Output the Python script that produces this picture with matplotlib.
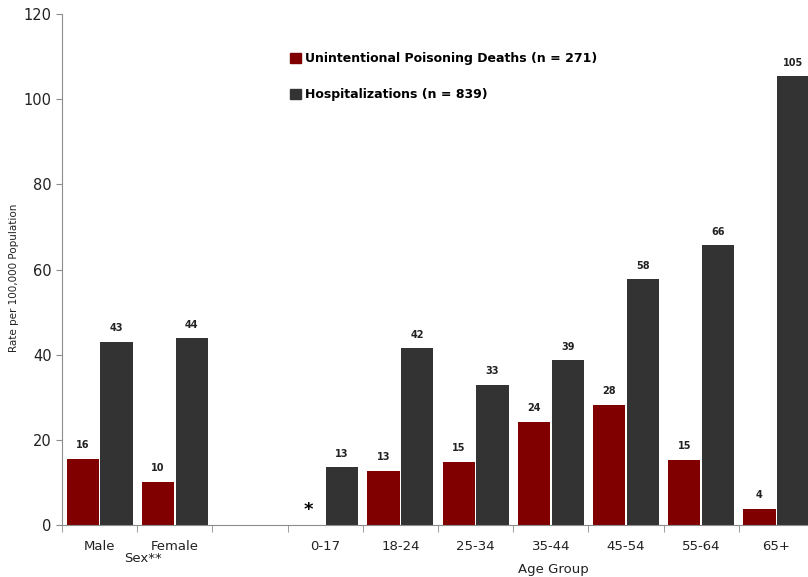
import numpy as np
import matplotlib
matplotlib.use("Agg")
import matplotlib.pyplot as plt
import matplotlib.transforms as mtransforms
from matplotlib.patches import Patch

# slots along x: two sex groups, one empty slot, then age groups
categories = ["Male", "Female", "", "0-17", "18-24", "25-34", "35-44", "45-54", "55-64", "65+"]
deaths = [15.6, 10.1, None, None, 12.7, 14.8, 24.2, 28.2, 15.3, 3.8]
hosp = [43.0, 43.9, None, 13.6, 41.5, 32.9, 38.7, 57.7, 65.7, 105.4]
death_labels = ["16", "10", "", "*", "13", "15", "24", "28", "15", "4"]
hosp_labels = ["43", "44", "", "13", "42", "33", "39", "58", "66", "105"]

RED = "#800000"
DARK = "#333333"
GRAY = "#8c8c8c"
TXT = "#222222"

fig = plt.figure(figsize=(8.08, 5.77), dpi=100)
ax = fig.add_axes([62 / 808, 1 - 525 / 577, 752 / 808, 511 / 577])

x = np.arange(len(categories))
w = 0.43
off = 0.225

for i in x:
    if deaths[i] is not None:
        ax.bar(i - off, deaths[i], w, color=RED)
        ax.text(i - off, deaths[i] + 2, death_labels[i], ha="center", va="bottom",
                fontsize=7, fontweight="bold", color=TXT)
    elif death_labels[i] == "*":
        ax.text(i - off, 1.5, "*", ha="center", va="bottom", fontsize=13,
                fontweight="bold", color="black")
    if hosp[i] is not None:
        ax.bar(i + off, hosp[i], w, color=DARK)
        ax.text(i + off, hosp[i] + 2, hosp_labels[i], ha="center", va="bottom",
                fontsize=7, fontweight="bold", color=TXT)

ax.set_xlim(-0.5, len(categories) - 0.5)
ax.set_ylim(0, 120)
ax.set_yticks(range(0, 121, 20))
ax.tick_params(axis="y", labelsize=10.5, color=GRAY, length=4, labelcolor=TXT)

# labels at slot centres, tick marks on slot boundaries
ax.set_xticks(x)
ax.set_xticklabels(categories)
ax.set_xticks(np.arange(-0.5, len(categories), 1.0), minor=True)
ax.tick_params(axis="x", which="major", length=0, pad=10.5, labelsize=9.5, labelcolor=TXT)
ax.tick_params(axis="x", which="minor", length=5, color=GRAY)

trans = mtransforms.blended_transform_factory(ax.transData, ax.transAxes)
ax.text(0.58, -34 / 511, "Sex**", ha="center", va="center", fontsize=9.5,
        color=TXT, transform=trans)
ax.text(6.04, -44 / 511, "Age Group", ha="center", va="center", fontsize=9.5,
        color=TXT, transform=trans)
fig.text(14 / 808, 1 - 278 / 577, "Rate per 100,000 Population", rotation=90,
         ha="center", va="center", fontsize=7.5, color=TXT)

for s in ["top", "right"]:
    ax.spines[s].set_visible(False)
for s in ["left", "bottom"]:
    ax.spines[s].set_color(GRAY)

handles = [Patch(color=RED, label="Unintentional Poisoning Deaths (n = 271)"),
           Patch(color=DARK, label="Hospitalizations (n = 839)")]
fig.legend(handles=handles, loc="upper left", bbox_to_anchor=(279 / 808, 1 - 41 / 577),
           frameon=False, handlelength=0.85, handleheight=0.85,
           handletextpad=0.3, labelspacing=1.85, prop={"size": 9, "weight": "bold"})

fig.savefig("out.png", dpi=100)
